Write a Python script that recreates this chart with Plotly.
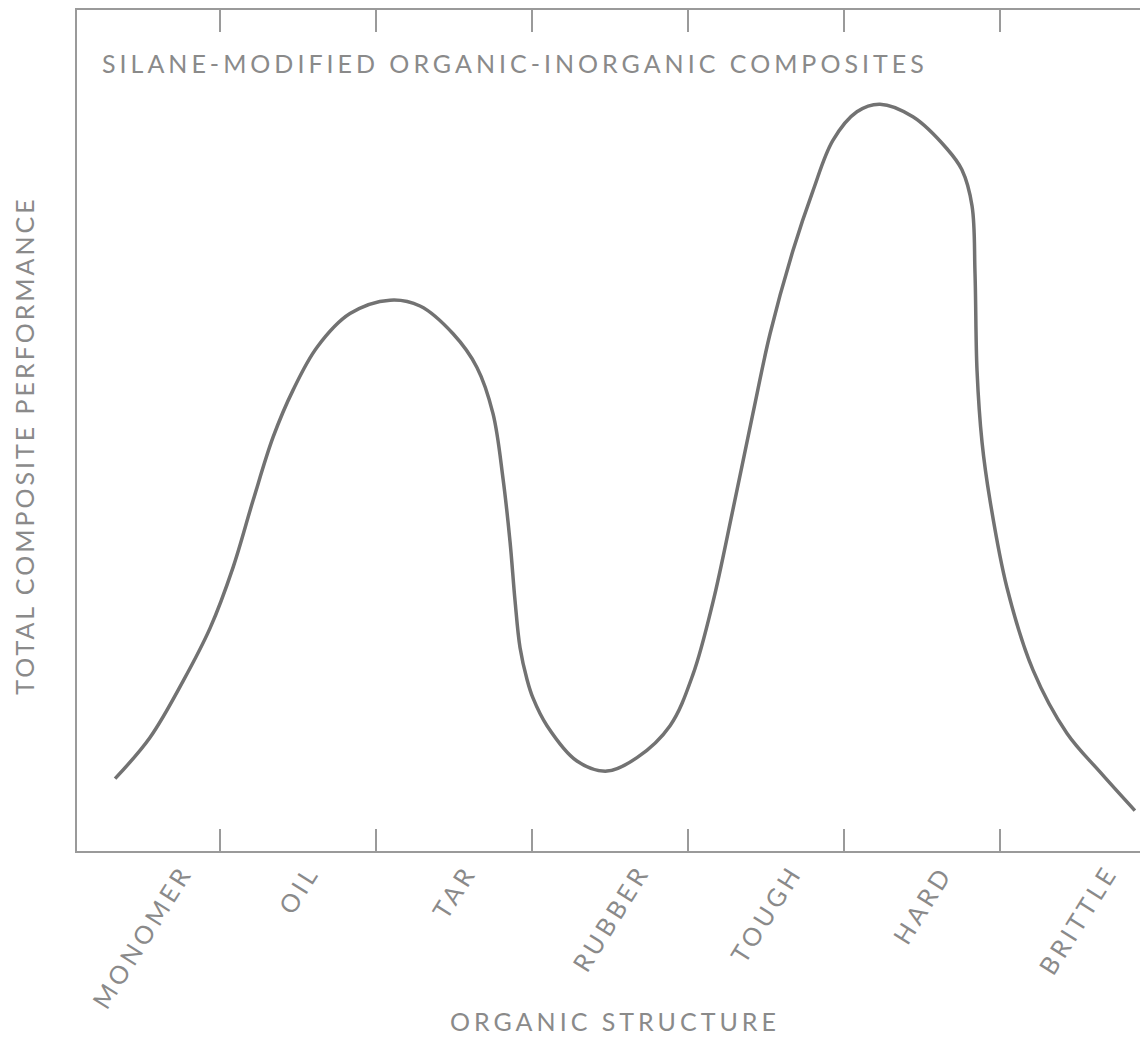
import plotly.graph_objects as go

# Categories along the organic-structure axis (index positions 0..6)
categories = ["MONOMER", "OIL", "TAR", "RUBBER", "TOUGH", "HARD", "BRITTLE"]

# Curve: position along the category axis and performance (0-100)
structure_pos = [-0.173, 0.051, 0.263, 0.436, 0.583, 0.712, 0.840, 0.968, 1.122, 1.333,
                 1.590, 1.782, 1.994, 2.147, 2.250, 2.314, 2.359, 2.391, 2.423, 2.468,
                 2.506, 2.596, 2.788, 2.981, 3.173, 3.385, 3.532, 3.660, 3.788, 3.917,
                 4.026, 4.173, 4.301, 4.429, 4.583, 4.731, 4.942, 5.160, 5.256, 5.321,
                 5.340, 5.353, 5.385, 5.436, 5.545, 5.712, 5.929, 6.141, 6.365]
performance = [8.6, 13.5, 20.2, 26.5, 33.7, 41.7, 49.2, 54.8, 59.9, 63.9,
               65.5, 64.8, 61.5, 57.5, 52.0, 44.3, 36.8, 29.8, 24.2, 20.4,
               18.2, 14.9, 10.7, 9.5, 11.1, 14.9, 21.0, 29.6, 40.6, 52.1,
               61.5, 71.4, 78.5, 84.5, 87.9, 88.8, 87.3, 83.5, 81.0, 76.7,
               68.7, 57.1, 48.6, 41.7, 31.3, 21.5, 14.0, 9.4, 4.8]

boundaries = [i + 0.5 for i in range(len(categories) - 1)]

title_text = "SILANE-MODIFIED ORGANIC-INORGANIC COMPOSITES"
x_title = "ORGANIC STRUCTURE"
y_title = "TOTAL COMPOSITE PERFORMANCE"

FONT = "Lato"
TXT = "#8a8a8a"
AX = "#9a9a9a"


def spaced(t, ls=4):
    return '<span style="letter-spacing:%dpx">%s</span>' % (ls, t)


fig = go.Figure()
fig.add_trace(go.Scatter(
    x=structure_pos, y=performance, mode="lines",
    line=dict(color="#727272", width=3.5, shape="spline", smoothing=1.0),
    showlegend=False, hoverinfo="skip"))

annotations = []
for i, c in enumerate(categories):
    annotations.append(dict(
        x=i, xref="x", y=-0.006, yref="paper", text=spaced(c), showarrow=False,
        textangle=-58, xanchor="center", yanchor="top",
        font=dict(family=FONT, size=25, color=TXT)))

annotations.append(dict(
    x=0.0215, xref="paper", y=0.937, yref="paper", text=spaced(title_text),
    showarrow=False, xanchor="left", yanchor="middle",
    font=dict(family=FONT, size=25, color=TXT)))
annotations.append(dict(
    x=0.502, xref="paper", y=-0.202, yref="paper", text=spaced(x_title),
    showarrow=False, xanchor="center", yanchor="middle",
    font=dict(family=FONT, size=25, color=TXT)))
annotations.append(dict(
    x=-0.0495, xref="paper", y=0.483, yref="paper", text=spaced(y_title, 3),
    showarrow=False, textangle=-90, xanchor="center", yanchor="middle",
    font=dict(family=FONT, size=25, color=TXT)))

# the page body adds an 8px offset, so the figure is sized to fill the rest of the window
fig.update_layout(
    width=1140, height=1034,
    margin=dict(l=69, r=0, t=2, b=191),
    paper_bgcolor="white", plot_bgcolor="white",
    annotations=annotations,
    xaxis=dict(range=[-0.417, 6.449], tickmode="array", tickvals=boundaries,
               ticktext=[""] * len(boundaries), ticks="inside", ticklen=22,
               tickwidth=2, tickcolor=AX, showline=True, linecolor=AX, linewidth=2,
               mirror="ticks", showgrid=False, zeroline=False, fixedrange=True),
    yaxis=dict(range=[0, 100], showline=True, linecolor=AX, linewidth=2,
               mirror=False, ticks="", showticklabels=False, showgrid=False,
               zeroline=False, fixedrange=True),
)

fig.write_html("out.html")
